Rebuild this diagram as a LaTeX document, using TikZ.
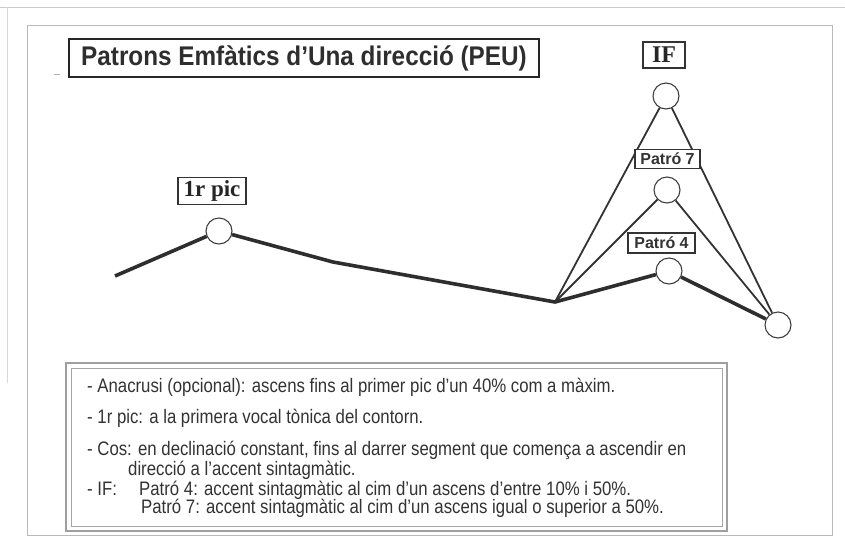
\documentclass[tikz,border=0pt]{standalone}
\usepackage{fontspec}
\setmainfont{Liberation Serif}
\newfontfamily\txtfont[FakeStretch=0.86]{Liberation Sans}
\newfontfamily\ttlfont[FakeStretch=0.9]{Liberation Sans}
\newfontfamily\patfont{Liberation Sans}
\begin{document}
\begin{tikzpicture}[x=1pt,y=-1pt,
  frameline/.style={draw=gray!55,line width=1pt},
  lab/.style={draw=black!80,line width=1.2pt,inner sep=0pt,fill=white},
  peak/.style={circle,draw=black!75,line width=1.1pt,minimum size=26pt,inner sep=0pt,fill=white},
  thickline/.style={draw=black!82,line width=3.6pt,line join=round},
  thinline/.style={draw=black!80,line width=1.8pt},
  txt/.style={anchor=base west,inner sep=0pt,font=\txtfont\fontsize{19.5}{21}\selectfont,text=black!80}]
\useasboundingbox (0,0) rectangle (845,547);
\fill[white] (0,0) rectangle (845,547);
% page edges and frame
\draw[draw=gray!40,line width=1pt] (0,7) -- (845,7);
\draw[draw=gray!30,line width=1pt] (7,7) -- (7,383);
\draw[frameline] (27,25) rectangle (832,535);
\draw[draw=gray!60,line width=0.8pt] (54,74) -- (60,74);
% title
\node[draw=black!85,line width=2.6pt,minimum width=470pt,minimum height=38pt,inner sep=0pt] (title) at (304,58)
  {\ttlfont\bfseries\fontsize{27}{29}\selectfont\color{black!82}Patrons Emfàtics d’Una direcció (PEU)};
% peaks
\coordinate (start) at (115,276);
\coordinate (bend) at (333,262);
\coordinate (valley) at (555,302);
\node[peak] (p1) at (219,231) {};
\node[peak] (pif) at (666,96) {};
\node[peak] (p7) at (667,190) {};
\node[peak] (p4) at (669,271) {};
\node[peak] (pend) at (778,325) {};
% connectors
\draw[thinline] (pif) -- (valley);
\draw[thinline] (pif) -- (pend);
\draw[thinline] (p7) -- (valley);
\draw[thinline] (p7) -- (pend);
\draw[thickline] (start) -- (p1);
\draw[thickline] (p1) -- (bend) -- (valley) -- (p4);
\draw[thickline] (p4) -- (pend);
% labels
\node[lab,minimum width=68pt,minimum height=27pt,font=\bfseries\fontsize{23}{24}\selectfont,text=black!85] (l1) at (212,191) {1r pic};
\node[lab,minimum width=42pt,minimum height=26pt,font=\bfseries\fontsize{24}{25}\selectfont,text=black!85] (lif) at (664,55) {IF};
\node[lab,minimum width=65pt,minimum height=19pt,font=\patfont\bfseries\fontsize{16}{17}\selectfont,text=black!80] (l7) at (667.5,159) {Patró 7};
\node[lab,minimum width=67pt,minimum height=20pt,font=\patfont\bfseries\fontsize{16}{17}\selectfont,text=black!80] (l4) at (661.5,243) {Patró 4};
% text box
\draw[draw=gray!75,line width=2pt] (66,363) rectangle (727,531);
\draw[draw=gray!70,line width=0.9pt] (71,368) rectangle (722,526);
\node[txt] (t1) at (87,392) {- Anacrusi (opcional): ascens fins al primer pic d’un 40\% com a màxim.};
\node[txt] (t2) at (87,423) {- 1r pic: a la primera vocal tònica del contorn.};
\node[txt] (t3) at (87,455.5) {- Cos: en declinació constant, fins al darrer segment que comença a ascendir en};
\node[txt] (t4) at (128,475) {direcció a l’accent sintagmàtic.};
\node[txt] (t5) at (87,495.5) {- IF:};
\node[txt] (t5b) at (139,495.5) {Patró 4: accent sintagmàtic al cim d’un ascens d’entre 10\% i 50\%.};
\node[txt] (t6) at (141,513.5) {Patró 7: accent sintagmàtic al cim d’un ascens igual o superior a 50\%.};
\end{tikzpicture}
\end{document}
